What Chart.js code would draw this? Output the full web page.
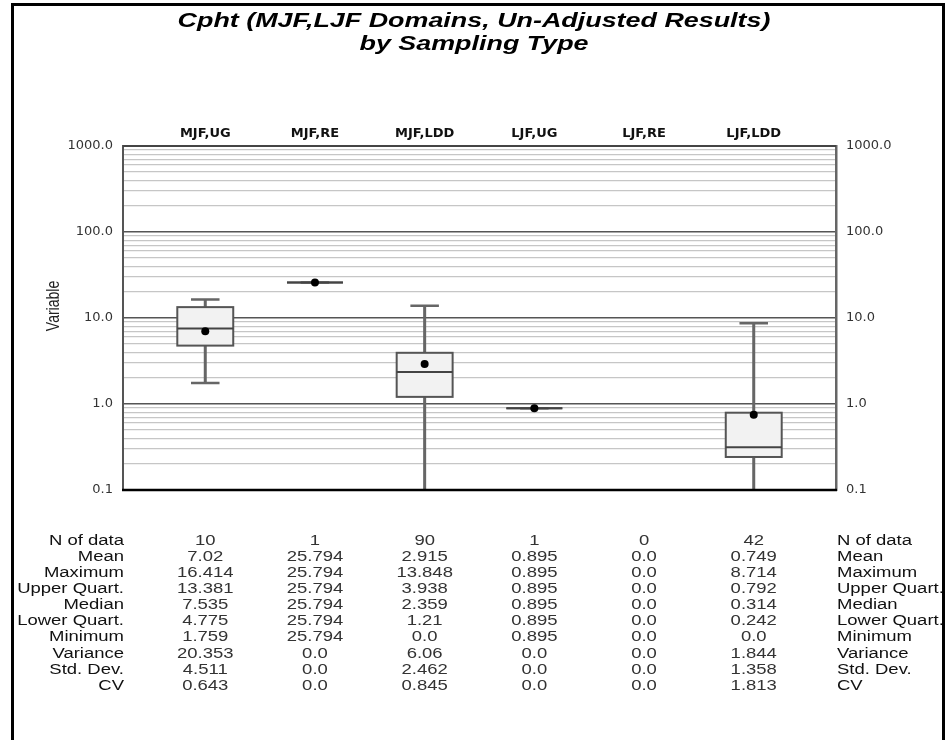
<!DOCTYPE html>
<html>
<head>
<meta charset="utf-8">
<script src="https://cdn.jsdelivr.net/npm/chart.js@4"></script>
<style>
  html, body { margin: 0; padding: 0; background: #fff; }
  #wrap { width: 948px; height: 740px; }
</style>
</head>
<body>
<div id="wrap"><canvas id="boxChart" width="948" height="740"></canvas></div>
<script>
/* Data */
const categories = ['MJF,UG', 'MJF,RE', 'MJF,LDD', 'LJF,UG', 'LJF,RE', 'LJF,LDD'];
const nOfData = [10, 1, 90, 1, 0, 42];
const means = [7.02, 25.794, 2.915, 0.895, 0.0, 0.749];
const maximums = [16.414, 25.794, 13.848, 0.895, 0.0, 8.714];
const upperQuarts = [13.381, 25.794, 3.938, 0.895, 0.0, 0.792];
const medians = [7.535, 25.794, 2.359, 0.895, 0.0, 0.314];
const lowerQuarts = [4.775, 25.794, 1.21, 0.895, 0.0, 0.242];
const minimums = [1.759, 25.794, 0.0, 0.895, 0.0, 0.0];
const variances = [20.353, 0.0, 6.06, 0.0, 0.0, 1.844];
const stdDevs = [4.511, 0.0, 2.462, 0.0, 0.0, 1.358];
const cvs = [0.643, 0.0, 0.845, 0.0, 0.0, 1.813];
const yDecades = [0.1, 1, 10, 100, 1000];
const yTickLabels = ['0.1', '1.0', '10.0', '100.0', '1000.0'];
const titleLines = ['Cpht (MJF,LJF Domains, Un-Adjusted Results)', 'by Sampling Type'];
const yAxisTitle = 'Variable';

const tableRows = [
  ['N of data', nOfData],
  ['Mean', means],
  ['Maximum', maximums],
  ['Upper Quart.', upperQuarts],
  ['Median', medians],
  ['Lower Quart.', lowerQuarts],
  ['Minimum', minimums],
  ['Variance', variances],
  ['Std. Dev.', stdDevs],
  ['CV', cvs],
];

// the reference text is horizontally stretched
const TEXT_SX = 1.32;

const isDecade = (v) => yDecades.some((d) => Math.abs(d - v) < 1e-9);

// log ticks: every 1..9 multiple of each decade, labels only on decades
function logTicks(scale) {
  const ticks = [];
  yDecades.forEach((d, k) => {
    if (k === yDecades.length - 1) {
      ticks.push({ value: d });
      return;
    }
    for (let m = 1; m <= 9; m++) ticks.push({ value: +(d * m).toPrecision(3) });
  });
  scale.ticks = ticks;
}
const logLabel = (v) => {
  const k = yDecades.findIndex((d) => Math.abs(d - v) < 1e-9);
  return k >= 0 ? yTickLabels[k] : '';
};

const fmt = (v) => (Number.isInteger(v) ? v.toFixed(1) : String(v));

function stretchedText(ctx, text, x, y, align, sx) {
  ctx.save();
  ctx.translate(x, y);
  ctx.scale(sx, 1);
  ctx.textAlign = align;
  ctx.fillText(text, 0, 0);
  ctx.restore();
}

/* Boxes, whiskers and medians, placed through the chart scales */
const boxPlotPlugin = {
  id: 'boxPlot',
  beforeDatasetsDraw(chart) {
    const { ctx, chartArea: area, scales: { x, y } } = chart;
    ctx.save();
    ctx.beginPath();
    ctx.rect(area.left, area.top, area.width, area.height);
    ctx.clip();
    const unit = Math.abs(x.getPixelForValue(1) - x.getPixelForValue(0));
    const halfBox = unit * 0.255;
    const halfCap = unit * 0.13;
    const py = (v) => (v > 0 ? y.getPixelForValue(v) : area.bottom + 10);
    categories.forEach((c, i) => {
      if (!nOfData[i]) return;
      const cx = x.getPixelForValue(i);
      const yMax = py(maximums[i]);
      const yQ3 = py(upperQuarts[i]);
      const yMed = py(medians[i]);
      const yQ1 = py(lowerQuarts[i]);
      const yMin = py(minimums[i]);

      ctx.strokeStyle = '#666';
      ctx.lineWidth = 3;
      ctx.beginPath();
      ctx.moveTo(cx, yMax);
      ctx.lineTo(cx, yQ3);
      ctx.moveTo(cx, yQ1);
      ctx.lineTo(cx, yMin);
      ctx.stroke();

      ctx.lineWidth = 2.5;
      ctx.beginPath();
      ctx.moveTo(cx - halfCap, yMax);
      ctx.lineTo(cx + halfCap, yMax);
      ctx.moveTo(cx - halfCap, yMin);
      ctx.lineTo(cx + halfCap, yMin);
      ctx.stroke();

      ctx.fillStyle = '#f2f2f2';
      ctx.fillRect(cx - halfBox, yQ3, halfBox * 2, yQ1 - yQ3);
      ctx.strokeStyle = '#555';
      ctx.lineWidth = 2;
      ctx.strokeRect(cx - halfBox, yQ3, halfBox * 2, yQ1 - yQ3);

      ctx.strokeStyle = '#444';
      ctx.beginPath();
      ctx.moveTo(cx - halfBox, yMed);
      ctx.lineTo(cx + halfBox, yMed);
      ctx.stroke();
    });
    ctx.restore();

    // top and bottom plot borders
    ctx.save();
    ctx.lineWidth = 2;
    ctx.strokeStyle = '#444';
    ctx.beginPath();
    ctx.moveTo(area.left, area.top);
    ctx.lineTo(area.right, area.top);
    ctx.stroke();
    ctx.strokeStyle = '#000';
    ctx.lineWidth = 2.5;
    ctx.beginPath();
    ctx.moveTo(area.left - 1, area.bottom);
    ctx.lineTo(area.right + 1, area.bottom);
    ctx.stroke();
    ctx.restore();
  },
};

/* Frame, title, axis title and the statistics table */
const decorPlugin = {
  id: 'decor',
  afterDraw(chart) {
    const { ctx, chartArea: area, scales: { x } } = chart;
    ctx.save();
    ctx.strokeStyle = '#000';
    ctx.lineWidth = 3;
    ctx.strokeRect(12.5, 4.5, 931, 760);

    ctx.fillStyle = '#000';
    ctx.textBaseline = 'middle';
    ctx.font = 'italic bold 21px "Liberation Sans"';
    stretchedText(ctx, titleLines[0], 474, 21, 'center', 1.28);
    stretchedText(ctx, titleLines[1], 474, 44, 'center', 1.28);

    ctx.save();
    ctx.translate(54, 306);
    ctx.rotate(-Math.PI / 2);
    ctx.scale(1, TEXT_SX);
    ctx.font = '14px "Liberation Sans"';
    ctx.fillStyle = '#222';
    ctx.textAlign = 'center';
    ctx.fillText(yAxisTitle, 0, 0);
    ctx.restore();

    ctx.font = '14px "Liberation Sans"';
    const rowTop = 541;
    const rowStep = 16.1;
    tableRows.forEach(([label, values], r) => {
      const ry = rowTop + r * rowStep;
      ctx.fillStyle = '#111';
      stretchedText(ctx, label, area.left + 1, ry, 'right', TEXT_SX);
      stretchedText(ctx, label, area.right + 1, ry, 'left', TEXT_SX);
      ctx.fillStyle = '#333';
      values.forEach((v, i) => {
        const txt = r === 0 ? String(v) : fmt(v);
        stretchedText(ctx, txt, x.getPixelForValue(i), ry, 'center', TEXT_SX);
      });
    });
    ctx.restore();
  },
};

const meanPoints = categories
  .map((c, i) => ({ x: i, y: means[i] }))
  .filter((p, i) => nOfData[i] > 0);

const ctxBox = document.getElementById('boxChart').getContext('2d');
const boxChart = new Chart(ctxBox, {
  type: 'scatter',
  data: {
    datasets: [
      {
        label: 'Mean',
        data: meanPoints,
        pointRadius: 4,
        pointHoverRadius: 4,
        backgroundColor: '#000',
        borderColor: '#000',
        borderWidth: 0,
      },
    ],
  },
  options: {
    responsive: false,
    animation: false,
    events: [],
    layout: { padding: { top: 0, left: 0, right: 0, bottom: 250 } },
    plugins: {
      legend: { display: false },
      tooltip: { enabled: false },
    },
    scales: {
      x: {
        type: 'linear',
        position: 'top',
        min: -0.75,
        max: 5.75,
        afterBuildTicks: (s) => {
          s.ticks = categories.map((c, i) => ({ value: i }));
        },
        afterFit: (s) => {
          s.height = 146;
        },
        ticks: {
          autoSkip: false,
          maxRotation: 0,
          padding: 5,
          color: '#111',
          font: { family: 'DejaVu Sans', weight: 'bold', size: 13 },
          callback: (v) => categories[v],
        },
        grid: { display: false, drawTicks: false },
        border: { display: false },
      },
      y: {
        type: 'logarithmic',
        position: 'left',
        min: 0.1,
        max: 1000,
        afterBuildTicks: logTicks,
        afterFit: (s) => {
          s.width = 123;
        },
        ticks: {
          autoSkip: false,
          padding: 10,
          color: '#333',
          font: { family: 'DejaVu Sans', size: 13 },
          callback: logLabel,
        },
        grid: {
          drawTicks: false,
          color: (c) => (isDecade(c.tick.value) ? '#555' : '#c6c6c6'),
          lineWidth: (c) => (isDecade(c.tick.value) ? 1.5 : 1.3),
        },
        border: { display: true, color: '#555', width: 2 },
      },
      y2: {
        type: 'logarithmic',
        position: 'right',
        min: 0.1,
        max: 1000,
        afterBuildTicks: logTicks,
        afterFit: (s) => {
          s.width = 112;
        },
        ticks: {
          autoSkip: false,
          padding: 10,
          color: '#333',
          font: { family: 'DejaVu Sans', size: 13 },
          callback: logLabel,
        },
        grid: { display: false, drawTicks: false },
        border: { display: true, color: '#666', width: 2.5 },
      },
    },
  },
  plugins: [boxPlotPlugin, decorPlugin],
});
</script>
</body>
</html>
